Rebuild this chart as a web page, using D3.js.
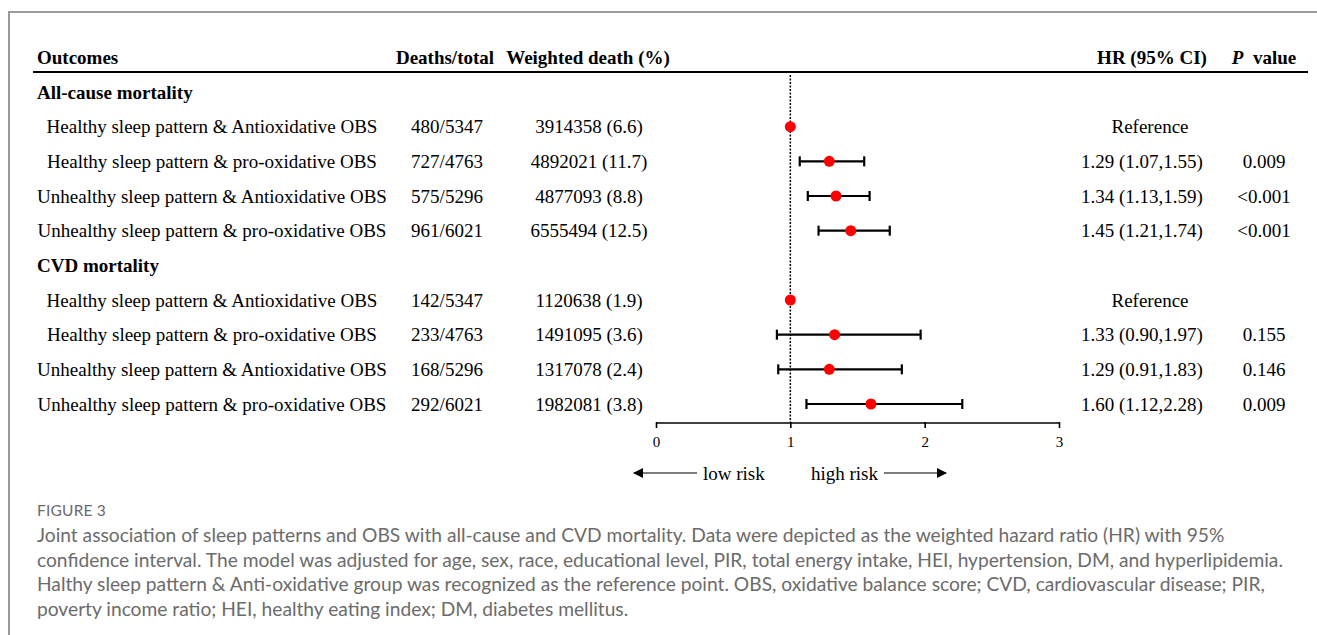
<!DOCTYPE html>
<html>
<head>
<meta charset="utf-8">
<script src="https://cdn.jsdelivr.net/npm/d3@7"></script>
<style>
  body { margin: 0; background: #fff; }
  svg { display: block; }
</style>
</head>
<body>
<div id="chart"></div>
<script>
// table rows, top to bottom (section headers have no values)
const rowLabels = [
    'All-cause mortality',
    'Healthy sleep pattern & Antioxidative OBS',
    'Healthy sleep pattern & pro-oxidative OBS',
    'Unhealthy sleep pattern & Antioxidative OBS',
    'Unhealthy sleep pattern & pro-oxidative OBS',
    'CVD mortality',
    'Healthy sleep pattern & Antioxidative OBS',
    'Healthy sleep pattern & pro-oxidative OBS',
    'Unhealthy sleep pattern & Antioxidative OBS',
    'Unhealthy sleep pattern & pro-oxidative OBS'
];
const isSection = [true, false, false, false, false, true, false, false, false, false];
const deathsTotal = ['', '480/5347', '727/4763', '575/5296', '961/6021', '', '142/5347', '233/4763', '168/5296', '292/6021'];
const weightedDeath = ['', '3914358 (6.6)', '4892021 (11.7)', '4877093 (8.8)', '6555494 (12.5)', '', '1120638 (1.9)', '1491095 (3.6)', '1317078 (2.4)', '1982081 (3.8)'];
const hr = [null, 1, 1.29, 1.34, 1.45, null, 1, 1.33, 1.29, 1.60];
const ciLower = [null, null, 1.07, 1.13, 1.21, null, null, 0.90, 0.91, 1.12];
const ciUpper = [null, null, 1.55, 1.59, 1.74, null, null, 1.97, 1.83, 2.28];
const hrText = ['', 'Reference', '1.29 (1.07,1.55)', '1.34 (1.13,1.59)', '1.45 (1.21,1.74)', '', 'Reference', '1.33 (0.90,1.97)', '1.29 (0.91,1.83)', '1.60 (1.12,2.28)'];
const pText = ['', '', '0.009', '<0.001', '<0.001', '', '', '0.155', '0.146', '0.009'];
const xTicks = [0, 1, 2, 3];

const captionTitle = 'FIGURE 3';
const captionLines = [
    'Joint association of sleep patterns and OBS with all-cause and CVD mortality. Data were depicted as the weighted hazard ratio (HR) with 95%',
    'confidence interval. The model was adjusted for age, sex, race, educational level, PIR, total energy intake, HEI, hypertension, DM, and hyperlipidemia.',
    'Halthy sleep pattern & Anti-oxidative group was recognized as the reference point. OBS, oxidative balance score; CVD, cardiovascular disease; PIR,',
    'poverty income ratio; HEI, healthy eating index; DM, diabetes mellitus.'
];

const W = 1317, H = 635;
const serif = '"Liberation Serif", "Times New Roman", serif';
const fs = 19;

const svg = d3.select('#chart').append('svg')
    .attr('width', W)
    .attr('height', H);

// frame
svg.append('path')
    .attr('d', `M${W},12 H9 V${H}`)
    .attr('fill', 'none')
    .attr('stroke', '#9a9a9a')
    .attr('stroke-width', 2);

const x = d3.scaleLinear().domain([0, 3]).range([656, 1059]);
const y = d3.scalePoint().domain(d3.range(rowLabels.length)).range([92, 404]);
const axisY = 423;

// header
const head = svg.append('g')
    .attr('font-family', serif)
    .attr('font-size', fs)
    .attr('font-weight', 'bold')
    .attr('fill', '#000');
head.append('text').attr('x', 37).attr('y', 57).attr('dy', '0.35em').text('Outcomes');
head.append('text').attr('x', 445).attr('y', 57).attr('dy', '0.35em').attr('text-anchor', 'middle').text('Deaths/total');
head.append('text').attr('x', 588).attr('y', 57).attr('dy', '0.35em').attr('text-anchor', 'middle').text('Weighted death (%)');
head.append('text').attr('x', 1152).attr('y', 57).attr('dy', '0.35em').attr('text-anchor', 'middle').text('HR (95% CI)');
const pHead = head.append('text').attr('x', 1264).attr('y', 57).attr('dy', '0.35em').attr('text-anchor', 'middle');
pHead.append('tspan').attr('font-style', 'italic').text('P');
pHead.append('tspan').text('  value').attr('xml:space', 'preserve');

svg.append('line')
    .attr('x1', 33).attr('x2', 1308)
    .attr('y1', 72).attr('y2', 72)
    .attr('stroke', '#000')
    .attr('stroke-width', 2);

// table body
const body = svg.append('g')
    .attr('font-family', serif)
    .attr('font-size', fs)
    .attr('fill', '#000');

rowLabels.forEach((label, i) => {
    if (isSection[i]) {
        body.append('text')
            .attr('x', 37).attr('y', y(i)).attr('dy', '0.35em')
            .attr('font-weight', 'bold')
            .text(label);
        return;
    }
    body.append('text').attr('x', 212).attr('y', y(i)).attr('dy', '0.35em').attr('text-anchor', 'middle').text(label);
    body.append('text').attr('x', 447).attr('y', y(i)).attr('dy', '0.35em').attr('text-anchor', 'middle').text(deathsTotal[i]);
    body.append('text').attr('x', 589).attr('y', y(i)).attr('dy', '0.35em').attr('text-anchor', 'middle').text(weightedDeath[i]);
    body.append('text').attr('x', hrText[i] === 'Reference' ? 1150 : 1142).attr('y', y(i)).attr('dy', '0.35em').attr('text-anchor', 'middle').text(hrText[i]);
    body.append('text').attr('x', 1264).attr('y', y(i)).attr('dy', '0.35em').attr('text-anchor', 'middle').text(pText[i]);
});

// reference line at HR = 1
svg.append('line')
    .attr('x1', x(1)).attr('x2', x(1))
    .attr('y1', 75).attr('y2', axisY)
    .attr('stroke', '#000')
    .attr('stroke-width', 1.5)
    .attr('stroke-dasharray', '2,1.5');

// axis
const axisG = svg.append('g')
    .attr('transform', `translate(0,${axisY})`)
    .call(d3.axisBottom(x).tickValues(xTicks).tickFormat(d3.format('d')).tickSize(5).tickPadding(8));
axisG.select('.domain').attr('stroke-width', 1.6).attr('d', `M${x(0)},0H${x(3)}`);
axisG.selectAll('.tick line').attr('stroke-width', 1.6).attr('y1', -1);
axisG.selectAll('.tick text')
    .attr('font-family', serif)
    .attr('font-size', 15)
    .attr('fill', '#000');

// CI bars and points
const est = d3.range(rowLabels.length).filter(i => hr[i] !== null);
const bars = svg.append('g').attr('stroke', '#000').attr('stroke-width', 2.2);
est.filter(i => ciLower[i] !== null).forEach(i => {
    bars.append('line').attr('x1', x(ciLower[i])).attr('x2', x(ciUpper[i])).attr('y1', y(i)).attr('y2', y(i));
    bars.append('line').attr('x1', x(ciLower[i])).attr('x2', x(ciLower[i])).attr('y1', y(i) - 5).attr('y2', y(i) + 5);
    bars.append('line').attr('x1', x(ciUpper[i])).attr('x2', x(ciUpper[i])).attr('y1', y(i) - 5).attr('y2', y(i) + 5);
});
svg.append('g').selectAll('circle')
    .data(est)
    .join('circle')
    .attr('cx', i => x(hr[i]))
    .attr('cy', i => y(i))
    .attr('r', 5.5)
    .attr('fill', '#ff0000');

// risk arrows
const defs = svg.append('defs');
defs.append('marker')
    .attr('id', 'arrow')
    .attr('viewBox', '0 0 10 10')
    .attr('refX', 9).attr('refY', 5)
    .attr('markerWidth', 10).attr('markerHeight', 10)
    .attr('markerUnits', 'userSpaceOnUse')
    .attr('orient', 'auto')
    .append('path').attr('d', 'M0,0L10,5L0,10Z').attr('fill', '#000');
const arrowY = 473;
svg.append('line').attr('x1', 697).attr('x2', 634).attr('y1', arrowY).attr('y2', arrowY)
    .attr('stroke', '#000').attr('stroke-width', 1.2).attr('marker-end', 'url(#arrow)');
svg.append('line').attr('x1', 884).attr('x2', 946).attr('y1', arrowY).attr('y2', arrowY)
    .attr('stroke', '#000').attr('stroke-width', 1.2).attr('marker-end', 'url(#arrow)');
svg.append('text').attr('x', 703).attr('y', arrowY).attr('dy', '0.35em')
    .attr('font-family', serif).attr('font-size', fs).text('low risk');
svg.append('text').attr('x', 878).attr('y', arrowY).attr('dy', '0.35em').attr('text-anchor', 'end')
    .attr('font-family', serif).attr('font-size', fs).text('high risk');

// caption
const cap = svg.append('g').attr('font-family', 'Lato, "Open Sans", sans-serif').attr('fill', '#6b6b6b');
cap.append('text').attr('x', 37).attr('y', 516).attr('font-size', 15.5).attr('letter-spacing', 0.2).text(captionTitle);
captionLines.forEach((line, i) => {
    cap.append('text')
        .attr('x', 37)
        .attr('y', 542 + i * 24.5)
        .attr('font-size', 19.2)
        .text(line);
});
</script>
</body>
</html>
